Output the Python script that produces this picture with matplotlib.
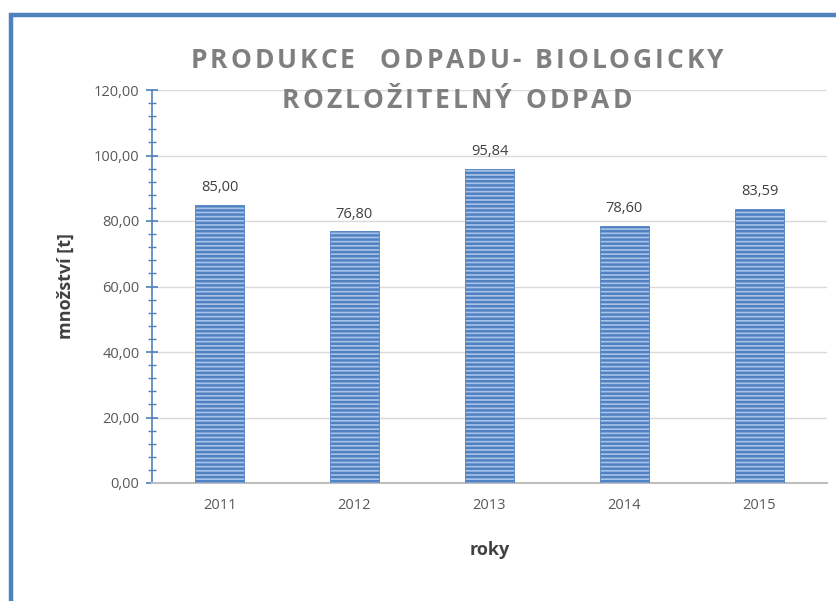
import matplotlib.pyplot as plt
import matplotlib.ticker as mticker
from matplotlib.patches import Rectangle

# data
years = ['2011', '2012', '2013', '2014', '2015']
values = [85.00, 76.80, 95.84, 78.60, 83.59]

title_lines = ['PRODUKCE  ODPADU- BIOLOGICKY', 'ROZLOŽITELNÝ ODPAD']
ylabel = 'množství [t]'
xlabel = 'roky'

plt.rcParams['font.family'] = ['Open Sans', 'DejaVu Sans']
plt.rcParams['hatch.linewidth'] = 1.8

fig = plt.figure(figsize=(8.36, 6.01), dpi=100)
ax = fig.add_axes([152 / 836, 1 - 483 / 601, (827 - 152) / 836, (483 - 90) / 601])

# blue frame around the chart
W, H = 836, 601
fig.patches.append(Rectangle((11 / W, -0.1), 1.2, 1 - 14.5 / H + 0.1,
                             transform=fig.transFigure, fill=False,
                             edgecolor='#4f81bd', linewidth=3.2))

x = range(len(years))
ax.bar(x, values, width=0.37, color='#a9c3e8', edgecolor='#5082c2',
       hatch='----', linewidth=0.6, zorder=3)

for i, v in enumerate(values):
    ax.text(i, v + 3, f'{v:.2f}'.replace('.', ','), ha='center', va='bottom',
            fontsize=10.5, color='#404040')

ax.set_xlim(-0.5, len(years) - 0.5)
ax.set_ylim(0, 120)
ax.set_xticks(list(x))
ax.set_xticklabels(years)
ax.yaxis.set_major_locator(mticker.MultipleLocator(20))
ax.yaxis.set_minor_locator(mticker.MultipleLocator(4))
ax.yaxis.set_major_formatter(mticker.FuncFormatter(lambda v, p: f'{v:.2f}'.replace('.', ',')))

ax.grid(axis='y', color='#d9d9d9', linewidth=1, zorder=0)
for s in ['top', 'right']:
    ax.spines[s].set_visible(False)
ax.spines['left'].set_color('#4f81bd')
ax.spines['left'].set_linewidth(1.2)
ax.spines['bottom'].set_color('#bfbfbf')
ax.spines['bottom'].set_linewidth(1.5)

ax.tick_params(axis='y', which='major', direction='inout', length=8, width=1.2,
               color='#4f81bd', labelsize=10.5, labelcolor='#595959', pad=5)
ax.tick_params(axis='y', which='minor', direction='inout', length=6, width=1.0,
               color='#4f81bd')
ax.tick_params(axis='x', length=0, labelsize=10.5, labelcolor='#595959', pad=11)

ax.set_ylabel(ylabel, fontsize=13, fontweight='bold', color='#404040', labelpad=14)
ax.set_xlabel(xlabel, fontsize=13, fontweight='bold', color='#404040', labelpad=20)

# title with letter spacing, placed character by character
renderer = fig.canvas.get_renderer()
spacing = 3.0  # extra px between letters
for line, yc in zip(title_lines, [61, 100]):
    chars = []
    widths = []
    for ch in line:
        t = fig.text(0, 0, ch if ch != ' ' else 'i', fontsize=19, fontweight='bold',
                     color='#7f7f7f', ha='left', va='center')
        w = t.get_window_extent(renderer).width
        if ch == ' ':
            t.set_text(' ')
        chars.append(t)
        widths.append(w)
    total = sum(widths) + spacing * (len(line) - 1)
    xpos = 457 - total / 2
    for t, w in zip(chars, widths):
        t.set_position((xpos / W, 1 - yc / H))
        xpos += w + spacing

fig.savefig('out.png', dpi=100)
